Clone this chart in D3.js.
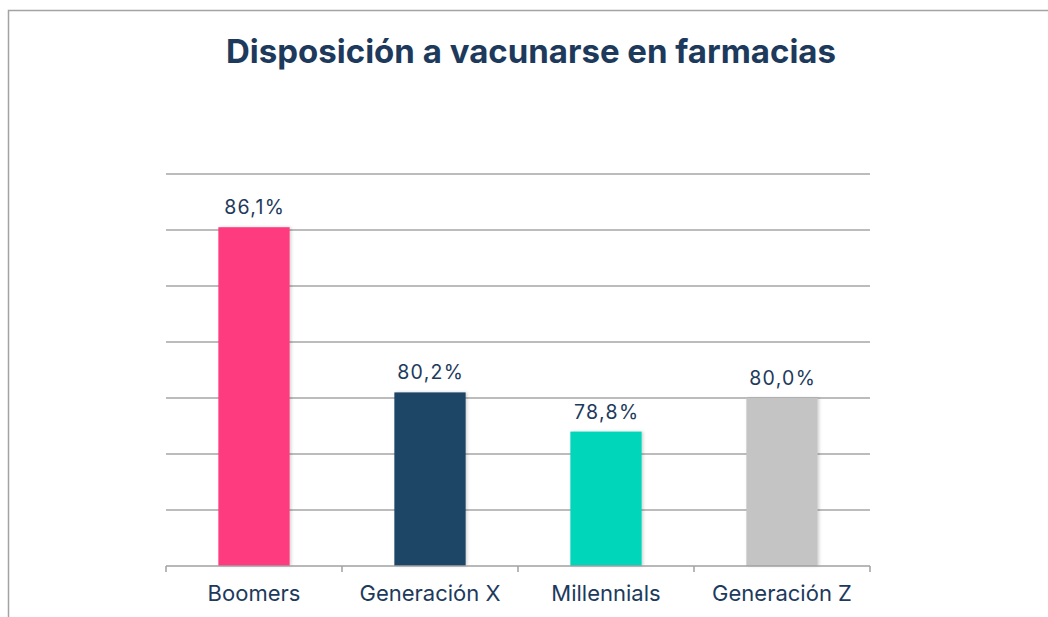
<!DOCTYPE html>
<html><head><meta charset="utf-8">
<script src="https://cdn.jsdelivr.net/npm/d3@7"></script>
<style>
html,body{margin:0;padding:0;background:#fff;}
svg{display:block;}
text{font-family:Inter,"Liberation Sans",Arial,sans-serif;}
</style></head>
<body>
<svg id="chart" width="1048" height="617"></svg>
<script>
const title = "Disposición a vacunarse en farmacias";
const categories = ["Boomers","Generación X","Millennials","Generación Z"];
const values = [86.1, 80.2, 78.8, 80.0];
const labels = ["86,1%","80,2%","78,8%","80,0%"];
const colors = ["#ff3b7f","#1f4466","#00d6b9","#c4c4c4"];
const yTicks = [74,76,78,80,82,84,86,88];

const svg = d3.select("#chart");
const W = 1048, H = 617;
const m = {left:166, right:870, top:174, bottom:566};

svg.append("rect").attr("x",8.5).attr("y",10.5).attr("width",W+20).attr("height",H+20)
  .attr("fill","none").attr("stroke","#a3a3a3").attr("stroke-width",1.5);

const defs = svg.append("defs");
const f = defs.append("filter").attr("id","sh").attr("x","-20%").attr("y","-5%").attr("width","140%").attr("height","110%");
f.append("feDropShadow").attr("dx",1.5).attr("dy",0).attr("stdDeviation",1.5).attr("flood-color","#000").attr("flood-opacity",0.18);

const x = d3.scaleBand().domain(categories).range([m.left,m.right]).paddingInner(0).paddingOuter(0);
const y = d3.scaleLinear().domain([74,88]).range([m.bottom,m.top]);

svg.append("g").selectAll("line").data(yTicks.slice(1)).join("line")
  .attr("x1",m.left).attr("x2",m.right)
  .attr("y1",d=>y(d)).attr("y2",d=>y(d))
  .attr("stroke","#a6a6a6").attr("stroke-width",1.5);

const bw = x.bandwidth()*0.405;
svg.append("g").selectAll("rect").data(values).join("rect")
  .attr("x",(d,i)=>x(categories[i])+x.bandwidth()/2-bw/2)
  .attr("width",bw)
  .attr("y",d=>y(d))
  .attr("height",d=>y(74)-y(d))
  .attr("fill",(d,i)=>colors[i])
  .attr("filter","url(#sh)");

const xAxis = d3.axisBottom(x).tickSize(0).tickFormat("");
const gx = svg.append("g").attr("transform",`translate(0,${m.bottom})`).call(xAxis);
gx.select(".domain").attr("stroke","#a0a0a0").attr("stroke-width",1.5).attr("d",`M${m.left},0H${m.right}`);
const bounds = categories.map(c=>x(c)).concat([m.right]);
svg.append("g").selectAll("line").data(bounds).join("line")
  .attr("x1",d=>d).attr("x2",d=>d).attr("y1",m.bottom).attr("y2",m.bottom+6)
  .attr("stroke","#a0a0a0").attr("stroke-width",1.5);

svg.append("g").selectAll("text").data(categories).join("text")
  .attr("x",d=>x(d)+x.bandwidth()/2).attr("y",601)
  .attr("text-anchor","middle").attr("fill","#1d3a5c")
  .attr("font-size",22).text(d=>d);

svg.append("g").selectAll("text").data(values).join("text")
  .attr("x",(d,i)=>x(categories[i])+x.bandwidth()/2+0.7).attr("y",d=>y(d)-13)
  .attr("text-anchor","middle").attr("fill","#1d3a5c")
  .attr("font-size",19.5).attr("letter-spacing",1.3).text((d,i)=>labels[i]);

svg.append("text").attr("x",531).attr("y",63).attr("text-anchor","middle")
  .attr("fill","#1d3a5c").attr("font-weight","bold").attr("font-size",33).text(title);
</script>
</body></html>
